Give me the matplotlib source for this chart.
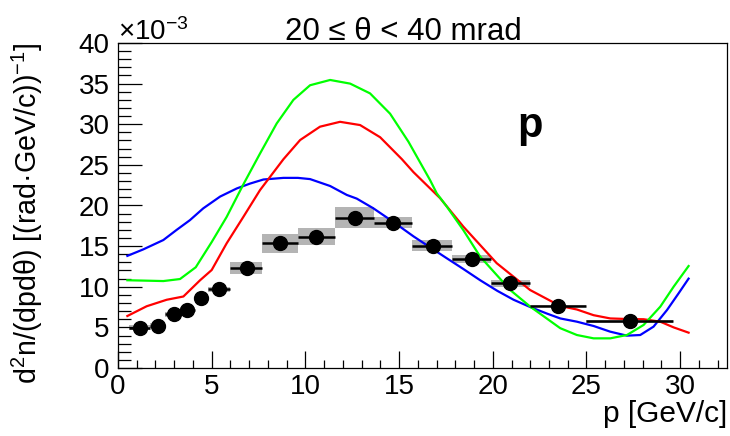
"""Proton yield d2n/(dp dtheta), 20 <= theta < 40 mrad, data vs three model curves
"""
import matplotlib
matplotlib.use("Agg")
import matplotlib.pyplot as plt
import matplotlib.ticker as tck
from matplotlib.patches import Rectangle

plt.rcParams["font.family"] = ["Liberation Sans", "DejaVu Sans"]
plt.rcParams["mathtext.fontset"] = "custom"
plt.rcParams["mathtext.rm"] = "Liberation Sans"
plt.rcParams["mathtext.it"] = "Liberation Sans:italic"

# data points (values in units of 1e-3)
p_mid = [1.17, 2.15, 2.99, 3.70, 4.42, 5.41, 6.87, 8.65, 10.57, 12.65,
         14.70, 16.80, 18.88, 20.93, 23.48, 27.30]
p_lo = [0.6, 1.7, 2.5, 3.3, 4.1, 4.8, 6.0, 7.7, 9.6, 11.6,
        13.65, 15.7, 17.8, 19.9, 22.0, 25.0]
p_hi = [1.7, 2.5, 3.3, 4.1, 4.8, 6.0, 7.7, 9.6, 11.6, 13.65,
        15.7, 17.8, 19.9, 22.0, 25.0, 29.6]
yield_val = [4.96, 5.2, 6.6, 7.14, 8.58, 9.69, 12.34, 15.35, 16.16, 18.5,
             17.9, 15.05, 13.4, 10.4, 7.6, 5.75]
sys_err = [0.3, 0.3, 0.3, 0.35, 0.4, 0.3, 0.75, 1.2, 1.05, 1.3,
           0.7, 0.65, 0.5, 0.45, 0.15, 0.15]

# model curves
blue_p = [0.5, 1.35, 2.42, 3.13, 3.84, 4.55, 5.45, 6.34, 7.05, 7.76, 8.83,
          9.6, 10.25, 11.32, 12.21, 12.74, 13.63, 14.68, 15.77, 16.82,
          17.55, 18.42, 19.33, 20.24, 21.11, 22.0, 22.89, 23.6, 24.49,
          25.38, 26.27, 27.16, 27.87, 28.58, 29.3, 29.92, 30.45]
blue_y = [13.8, 14.6, 15.75, 17.0, 18.2, 19.65, 21.1, 22.1, 22.7, 23.2, 23.4,
          23.4, 23.25, 22.4, 21.3, 20.85, 19.65, 18.0, 16.2, 14.6,
          13.5, 12.2, 10.8, 9.5, 8.4, 7.5, 6.7, 6.1, 5.7,
          5.17, 4.47, 3.98, 4.06, 5.09, 7.14, 9.2, 11.0]

red_p = [0.5, 1.53, 2.6, 3.49, 4.38, 5.0, 5.8, 6.69, 7.58, 8.83, 9.72,
         10.78, 11.85, 12.92, 13.99, 15.15, 15.77, 17.19, 18.43, 20.21,
         21.99, 23.6, 24.49, 25.38, 26.27, 27.16, 28.05, 28.94, 29.65, 30.45]
red_y = [6.4, 7.6, 8.4, 8.8, 10.8, 12.06, 15.35, 18.6, 21.9, 25.7, 28.06,
         29.7, 30.3, 29.9, 28.4, 25.7, 24.1, 20.9, 17.4, 12.9,
         9.6, 7.63, 7.2, 6.5, 6.1, 6.03, 6.0, 5.7, 5.0, 4.35]

green_p = [0.5, 1.5, 2.42, 3.31, 4.15, 5.0, 5.8, 6.69, 7.58, 8.47, 9.36,
           10.25, 11.32, 12.39, 13.45, 14.52, 15.5, 16.66, 17.01, 17.55,
           18.42, 19.33, 20.93, 22.0, 23.6, 24.49, 25.38, 26.27, 27.16,
           28.05, 28.94, 29.65, 30.45]
green_y = [10.8, 10.75, 10.7, 10.95, 12.4, 15.5, 18.6, 22.6, 26.4, 30.1, 33.0,
           34.8, 35.45, 35.0, 33.8, 31.3, 27.85, 23.1, 21.5, 19.85,
           17.0, 13.7, 9.6, 7.55, 4.9, 4.06, 3.65, 3.65, 4.06,
           5.3, 7.55, 10.0, 12.55]

W, H = 730, 436
fig = plt.figure(figsize=(W / 100, H / 100), dpi=100)
ax = fig.add_axes([118 / W, (H - 368) / H, (727 - 118) / W, (368 - 43) / H])

for lo, hi, y, s in zip(p_lo, p_hi, yield_val, sys_err):
    ax.add_patch(Rectangle((lo, y - s), hi - lo, 2 * s, facecolor="#b4b4b4",
                           edgecolor="none", zorder=1))

ax.plot(blue_p, blue_y, color="#0000ff", lw=1.6, zorder=2,
        solid_joinstyle="round")
ax.plot(red_p, red_y, color="#ff0000", lw=1.6, zorder=2,
        solid_joinstyle="round")
ax.plot(green_p, green_y, color="#00ff00", lw=1.6, zorder=2,
        solid_joinstyle="round")

xerr = [[m - lo for m, lo in zip(p_mid, p_lo)],
        [hi - m for m, hi in zip(p_mid, p_hi)]]
ax.errorbar(p_mid, yield_val, xerr=xerr, fmt="o", color="black", ms=10,
            elinewidth=1.8, capsize=0, zorder=3)

ax.set_xlim(0, 32.5)
ax.set_ylim(0, 40)
ax.xaxis.set_major_locator(tck.MultipleLocator(5))
ax.xaxis.set_minor_locator(tck.MultipleLocator(1))
ax.yaxis.set_major_locator(tck.MultipleLocator(5))
ax.yaxis.set_minor_locator(tck.MultipleLocator(1))
ax.tick_params(which="both", direction="in", labelsize=20, width=0.9)
ax.tick_params(axis="y", which="major", length=17, pad=6)
ax.tick_params(axis="y", which="minor", length=9)
ax.tick_params(axis="x", which="major", length=12, pad=4)
ax.tick_params(axis="x", which="minor", length=6)
for sp in ax.spines.values():
    sp.set_linewidth(0.9)

ax.text(22.0, 29.8, "p", ha="center", va="center", fontsize=30,
        fontweight="bold")

fig.text(118 / W, 1 - 40 / H, r"$\times10^{-3}$", ha="left", va="baseline",
         fontsize=20)
fig.text(403 / W, 1 - 40 / H, "20 ≤ θ < 40 mrad", ha="center",
         va="baseline", fontsize=22.5)
fig.text(27 / W, 1 - 42 / H, r"d$^{2}$n/(dpdθ) [(rad·GeV/c))$^{-1}$]",
         rotation=90, ha="center", va="top", fontsize=20.6)
fig.text(727 / W, 14 / H, "p [GeV/c]", ha="right", va="baseline",
         fontsize=21.5)

fig.savefig("out.png", dpi=100)
